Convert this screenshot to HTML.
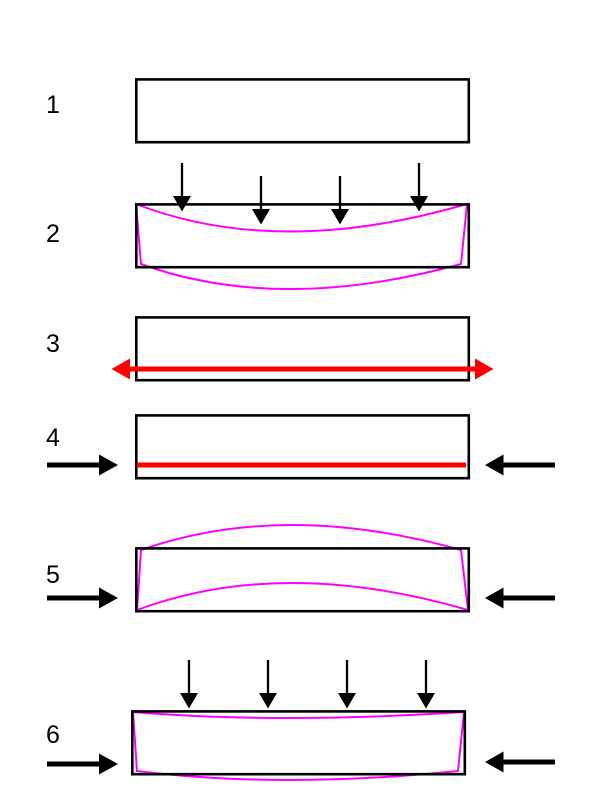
<!DOCTYPE html>
<html>
<head>
<meta charset="utf-8">
<style>
html,body{margin:0;padding:0;background:#fff;width:600px;height:806px;overflow:hidden}
svg{display:block}
text{font-family:"Liberation Sans",sans-serif;font-size:25px;fill:#000}
.m{fill:none;stroke:#ff00ff;stroke-width:2}
.r{fill:none;stroke:#000;stroke-width:2.600}
.v{stroke:#000;stroke-width:2.300}
.h{stroke:#000;stroke-width:5}
</style>
</head>
<body>
<svg width="600" height="806" viewBox="0 0 600 806" xmlns="http://www.w3.org/2000/svg">
<rect width="600" height="806" fill="#fff"/>

<text x="46" y="113">1</text>
<text x="46" y="242">2</text>
<text x="46" y="352">3</text>
<text x="46" y="446">4</text>
<text x="46" y="583">5</text>
<text x="46" y="743">6</text>

<!-- magenta deformation shapes -->
<path class="m" d="M136 204Q278 259 467 204L461 264Q279 314 141 264Z"/>
<path class="m" d="M141 550Q283 500 461 550L468 610Q282 556 137 610Z"/>
<path class="m" d="M133 712Q279 724 464 712L458 771Q281 789 137 771Z"/>

<!-- beams -->
<rect class="r" x="136.300" y="79.400" width="332.500" height="62.800"/>
<rect class="r" x="136.300" y="204.400" width="332.500" height="62.800"/>
<rect class="r" x="136.300" y="317.400" width="332.500" height="62.800"/>
<rect class="r" x="136.300" y="415.400" width="332.500" height="62.800"/>
<rect class="r" x="136.300" y="548.400" width="332.500" height="62.800"/>
<rect class="r" x="132.300" y="711.400" width="332.500" height="62.800"/>

<!-- vertical load arrows row 2 -->
<line class="v" x1="182" y1="163" x2="182" y2="197"/><path d="M173 196H191L182 211.500Z"/>
<line class="v" x1="261" y1="176" x2="261" y2="210"/><path d="M252 209H270L261 224.500Z"/>
<line class="v" x1="340" y1="176" x2="340" y2="210"/><path d="M331 209H349L340 224.500Z"/>
<line class="v" x1="419" y1="163" x2="419" y2="197"/><path d="M410 196H428L419 211.500Z"/>

<!-- vertical load arrows row 6 -->
<line class="v" x1="189" y1="660" x2="189" y2="694"/><path d="M180 693H198L189 708.500Z"/>
<line class="v" x1="268" y1="660" x2="268" y2="694"/><path d="M259 693H277L268 708.500Z"/>
<line class="v" x1="347" y1="660" x2="347" y2="694"/><path d="M338 693H356L347 708.500Z"/>
<line class="v" x1="426" y1="660" x2="426" y2="694"/><path d="M417 693H435L426 708.500Z"/>

<!-- red -->
<line x1="128" y1="369" x2="477" y2="369" stroke="#ff0000" stroke-width="5"/>
<path d="M111.500 369L130 358.500V379.500Z" fill="#ff0000"/>
<path d="M493.500 369L475 358.500V379.500Z" fill="#ff0000"/>
<line x1="137" y1="465" x2="466" y2="465" stroke="#ff0000" stroke-width="5"/>

<!-- horizontal arrows -->
<line class="h" x1="47" y1="465" x2="100" y2="465"/><path d="M99 454.500V475.500L118 465Z"/>
<line class="h" x1="555" y1="465" x2="502" y2="465"/><path d="M503.500 454.500V475.500L485 465Z"/>
<line class="h" x1="47" y1="598" x2="100" y2="598"/><path d="M99 587.500V608.500L118 598Z"/>
<line class="h" x1="555" y1="598" x2="502" y2="598"/><path d="M503.500 587.500V608.500L485 598Z"/>
<line class="h" x1="47" y1="764" x2="100" y2="764"/><path d="M99 753.500V774.500L118 764Z"/>
<line class="h" x1="555" y1="762" x2="502" y2="762"/><path d="M503.500 751.500V772.500L485 762Z"/>
</svg>
</body>
</html>
